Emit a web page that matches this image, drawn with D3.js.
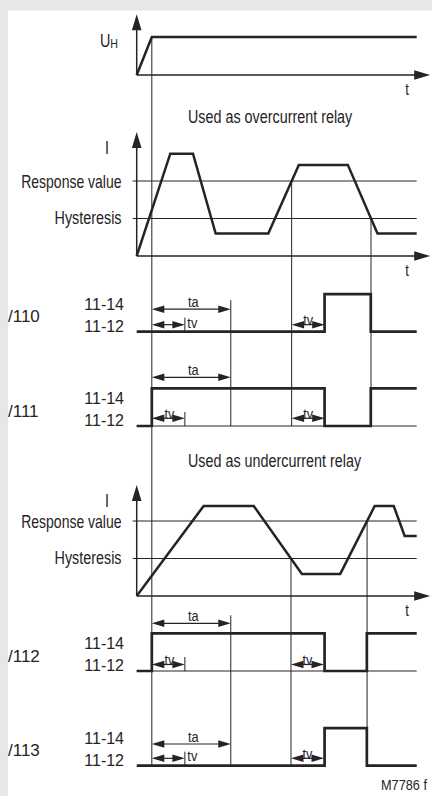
<!DOCTYPE html>
<html><head><meta charset="utf-8">
<script src="https://cdn.jsdelivr.net/npm/d3@7"></script>
<style>body{margin:0;background:#e6e7e9}svg{display:block}</style>
</head><body><svg id="c" width="432" height="796"></svg>
<script>
// ---------- data (time units 0..100, levels in relative units) ----------
const timeDomain = [0, 100];
const uhWave = [[0,0],[5.4,1],[100,1]];
const overWave = [[0,0],[12,2.73],[20.1,2.73],[28.2,0.6],[47,0.6],[57.9,2.43],[75.4,2.43],[86,0.6],[100,0.6]];
const underWave = [[0,0],[23.9,2.4],[41.8,2.4],[59,0.59],[72.7,0.59],[85,2.4],[91.8,2.4],[95.7,1.6],[100,1.6]];
const responseLevel = 2, hysteresisLevel = 1;
const tOn = 5.4, taTime = 28.2, tvTime = 11.8;
const relay110 = [[0,0],[67.1,1],[83.6,0],[100,0]];
const relay111 = [[0,0],[5.4,1],[67.1,0],[83.6,1],[100,1]];
const relay112 = [[0,0],[5.4,1],[67.1,0],[82.2,1],[100,1]];
const relay113 = [[0,0],[67.1,1],[82.2,0],[100,0]];
const relayNames = ["/110","/111","/112","/113"];
const contactLabels = ["11-14","11-12"];
const levelLabels = ["Response value","Hysteresis"];
const titles = ["Used as overcurrent relay","Used as undercurrent relay"];
const figureId = "M7786  f";

// ---------- drawing ----------
const INK = "#262324";
const FONT = "'Liberation Sans', Arial, sans-serif";
const svg = d3.select("#c");
svg.append("rect").attr("width",432).attr("height",796).attr("fill","#e6e7e9");
svg.append("rect").attr("x",8).attr("y",10.5).attr("width",424).attr("height",786).attr("fill","#fff");

const x = d3.scaleLinear().domain(timeDomain).range([136.7, 416.7]);
const x0 = x(0), xEnd = x(100);

function label(px, py, s, o = {}) {
  const t = svg.append("text")
    .attr("transform", `translate(${px},${py}) scale(${o.sx ?? 0.82},1)`)
    .attr("text-anchor", o.anchor || "start")
    .attr("font-family", FONT).attr("font-size", o.size || 17.5)
    .attr("fill", INK).text(s);
  return t;
}
function line(x1,y1,x2,y2,w=1){
  svg.append("line").attr("x1",x1).attr("y1",y1).attr("x2",x2).attr("y2",y2)
    .attr("stroke",INK).attr("stroke-width",w);
}
function head(px, py, dir, len, hw){
  // dir: 'r','l','u'
  let pts;
  if (dir==='r') pts=[[px,py],[px-len,py-hw],[px-len,py+hw]];
  else if (dir==='l') pts=[[px,py],[px+len,py-hw],[px+len,py+hw]];
  else pts=[[px,py],[px-hw,py+len],[px+hw,py+len]];
  svg.append("polygon").attr("points",pts.map(p=>p.join(",")).join(" ")).attr("fill",INK);
}
function crossing(wave, level, dir, after){
  for (let i=1;i<wave.length;i++){
    const [t0,v0]=wave[i-1],[t1,v1]=wave[i];
    if (t0 < after) continue;
    if (dir>0 ? (v0<level && v1>=level) : (v0>level && v1<=level))
      return t0 + (level-v0)/(v1-v0)*(t1-t0);
  }
}
function timeAxis(yBase, topLevel, y){
  // horizontal time axis with arrow
  const tip = xEnd + 13.5;
  line(x0, yBase, tip-10, yBase, 1.3);
  head(tip, yBase, 'r', 16, 4.8);
  label(407, yBase+20, "t", {anchor:"middle", size:16});
  // vertical axis
  const yt = y(topLevel);
  line(x0, yBase, x0, yt+10, 1.5);
  head(x0, yt, 'u', 16, 4.8);
}
function wavePath(data, y, w){
  svg.append("path").datum(data)
    .attr("d", d3.line().x(d=>x(d[0])).y(d=>y(d[1])))
    .attr("fill","none").attr("stroke",INK).attr("stroke-width",w)
    .attr("stroke-linejoin","miter");
}

// --- UH panel
const yUH = d3.scaleLinear().domain([0,1]).range([75,37]);
timeAxis(75, 1.6, yUH);
wavePath(uhWave, yUH, 2.5);
const uh = label(118, 47, "U", {anchor:"end", size:17.5});
uh.append("tspan").attr("font-size",13).attr("dy",1).text("H");

// --- current panels
function currentPanel(base, wave, topLevel, title, titleY){
  const y = d3.scaleLinear().domain([0,1]).range([base, base-37.5]);
  label(188, titleY, title);
  [responseLevel, hysteresisLevel].forEach((lv,i)=>{
    line(x0-4, y(lv), xEnd, y(lv), 1);
    label(121.5, y(lv) + (i===0?6.5:5), levelLabels[i], {anchor:"end", sx: i===0?0.8:0.82});
  });
  timeAxis(base, topLevel, y);
  label(109, y(topLevel)+22, "I", {anchor:"end"});
  wavePath(wave, y, 2.5);
  return y;
}
const yOver = currentPanel(256, overWave, 3.31, titles[0], 122.5);
const yUnder = currentPanel(596, underWave, 2.96, titles[1], 466.5);

const oc1 = crossing(overWave, responseLevel, 1, 40);
const oc2 = crossing(overWave, hysteresisLevel, -1, 60);
const uc1 = crossing(underWave, hysteresisLevel, -1, 30);
const uc2 = crossing(underWave, responseLevel, 1, 60);

// --- relay panels
const relays = [
  {wave:relay110, base:331.7, taY:-22.5, tvY:-7,  tvRight:true,  thin:false, c:oc1},
  {wave:relay111, base:426,   taY:-48.7, tvY:-7.7,tvRight:false, thin:true,  c:oc1},
  {wave:relay112, base:671,   taY:-47.7, tvY:-6.5,tvRight:false, thin:true,  c:uc1},
  {wave:relay113, base:765.7, taY:-21.7, tvY:-7.4,tvRight:true,  thin:false, c:uc1}
];

// vertical marker lines
line(x(tOn), yUH(1), x(tOn), relays[3].base, 1);
line(x(oc1), yOver(responseLevel), x(oc1), relays[1].base, 1);
line(x(oc2), yOver(hysteresisLevel), x(oc2), relays[1].base, 1);
line(x(uc1), yUnder(hysteresisLevel), x(uc1), relays[3].base, 1);
line(x(uc2), yUnder(responseLevel), x(uc2), relays[3].base, 1);
line(x(tOn+taTime), relays[0].base+relays[0].taY-9, x(tOn+taTime), relays[1].base, 1);
line(x(tOn+taTime), relays[2].base+relays[2].taY-8, x(tOn+taTime), relays[3].base, 1);

function dimArrow(t1, t2, yy){
  const a = x(t1), b = x(t2);
  line(a+6, yy, b-6, yy, 1.2);
  head(a, yy, 'l', 12.5, 3.8);
  head(b, yy, 'r', 12.5, 3.8);
}

relays.forEach((r,i)=>{
  const y = d3.scaleLinear().domain([0,1]).range([r.base, r.base-37.6]);
  label(8, r.base-9.5, relayNames[i], {size:17, sx:1});
  label(124, r.base-22, contactLabels[0], {anchor:"end", size:16, sx:1});
  label(124, r.base, contactLabels[1], {anchor:"end", size:16, sx:1});
  if (r.thin) line(x0, r.base, xEnd, r.base, 1);
  svg.append("path").datum(r.wave)
    .attr("d", d3.line().curve(d3.curveStepAfter).x(d=>x(d[0])).y(d=>y(d[1])))
    .attr("fill","none").attr("stroke",INK).attr("stroke-width",2.7)
    .attr("stroke-linejoin","miter");
  // ta
  const taY = r.base + r.taY;
  dimArrow(tOn, tOn+taTime, taY);
  label((x(tOn)+x(tOn+taTime))/2+2, taY-2.5, "ta", {anchor:"middle", size:15.5});
  // tv (first)
  const tvY = r.base + r.tvY;
  dimArrow(tOn, tOn+tvTime, tvY);
  line(x(tOn+tvTime), r.base-14, x(tOn+tvTime), r.base, 1);
  if (r.tvRight) label(x(tOn+tvTime)+2.5, tvY+3, "tv", {size:15.5});
  else label((x(tOn)+x(tOn+tvTime))/2+1, tvY+0.5, "tv", {anchor:"middle", size:15.5});
  // tv (second)
  dimArrow(r.c, r.c+tvTime, tvY);
  label((x(r.c)+x(r.c+tvTime))/2, tvY+0.5, "tv", {anchor:"middle", size:15.5});
});

label(427, 790, figureId, {anchor:"end", size:15, sx:0.85});
</script></body></html>
